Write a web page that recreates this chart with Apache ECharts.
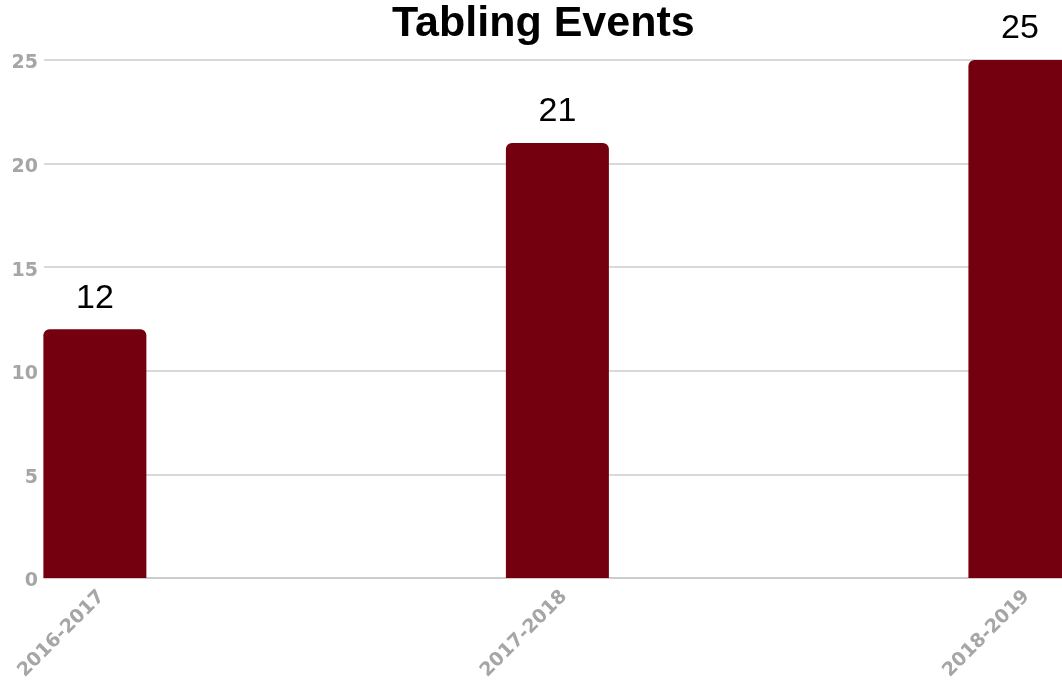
<!DOCTYPE html>
<html><head><meta charset="utf-8">
<script src="https://cdn.jsdelivr.net/npm/echarts@6/dist/echarts.min.js"></script>
<style>html,body{margin:0;padding:0;background:#fff}#c{width:1062px;height:686px}</style>
</head><body><div id="c"></div>
<script>
const categories = ["2016-2017", "2017-2018", "2018-2019"];
const values = [12, 21, 25];
const yTicks = [0, 5, 10, 15, 20, 25];
const title = "Tabling Events";

const chart = echarts.init(document.getElementById('c'), null, {renderer: 'canvas'});
chart.setOption({
  animation: false,
  backgroundColor: '#fff',
  title: {text: title, left: 387, top: -2,
    textStyle: {fontFamily: 'Liberation Sans', fontWeight: 'bold', fontSize: 43, color: '#000'}},
  grid: {left: 44, right: 0, top: 60, bottom: 108, containLabel: false},
  xAxis: {
    type: 'value', min: -0.110, max: 2.091,
    splitLine: {show: false},
    axisLine: {show: true, lineStyle: {color: '#c8c8c8', width: 1.5}},
    axisTick: {show: false},
    axisLabel: {
      customValues: [0, 1, 2],
      formatter: v => categories[Math.round(v)] || '',
      rotate: 45, margin: 9, verticalAlign: 'top', padding: [0, 0, 0, 0],
      color: '#a6a6a6', fontFamily: 'DejaVu Sans', fontWeight: 'bold', fontSize: 19
    }
  },
  yAxis: {
    type: 'value', min: yTicks[0], max: yTicks[yTicks.length - 1], interval: 5,
    axisLine: {show: false}, axisTick: {show: false},
    splitLine: {lineStyle: {color: '#cccccc', width: 1.5}},
    axisLabel: {margin: 6, verticalAlign: 'top', padding: [-6, 0, 0, 0], color: '#a6a6a6', fontFamily: 'DejaVu Sans', fontWeight: 'bold', fontSize: 19}
  },
  series: [{
    type: 'bar',
    data: values.map((v, i) => [i, v]),
    barWidth: 103,
    itemStyle: {color: '#74000f', borderRadius: [6, 6, 0, 0]},
    label: {show: true, position: 'top', distance: 14, color: '#000',
      fontFamily: 'Liberation Sans', fontSize: 34,
      formatter: p => p.value[1]}
  }]
});
</script></body></html>
